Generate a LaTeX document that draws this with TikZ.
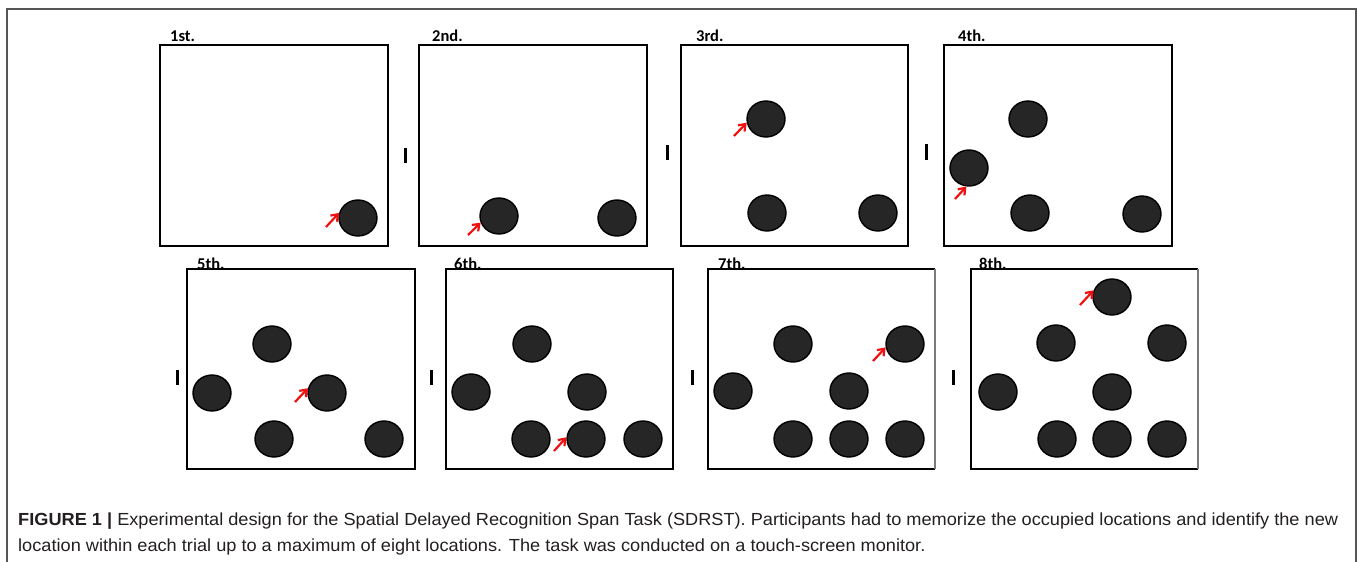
\documentclass[tikz,border=0pt]{standalone}
\usepackage{fontspec}
\setmainfont{Liberation Sans}
\newfontfamily\lblfont{Carlito}
\usetikzlibrary{shapes.geometric,arrows.meta}
\definecolor{dotfill}{HTML}{262626}
\definecolor{framegray}{HTML}{555555}
\definecolor{edgegray}{HTML}{7A7A7A}
\definecolor{capgray}{HTML}{231F20}
\definecolor{arrowred}{HTML}{F01010}
\newlength\capw
\newcommand\capA{\textbf{FIGURE 1 |} Experimental design for the Spatial Delayed Recognition Span Task (SDRST). Participants had to memorize the occupied locations and identify the new}
\newcommand\capB{location within each trial up to a maximum of eight locations. The task was conducted on a touch-screen monitor.}
\newcommand\capfont{\fontsize{17.5}{17.5}\selectfont}
\begin{document}
\settowidth{\capw}{\capfont\capA}%
\pgfmathsetmacro\capsx{1320/\capw}%
\begin{tikzpicture}[x=1pt,y=-1pt,
  panel/.style={draw=black,line width=1.4pt},
  dot/.style={ellipse,draw=black,fill=dotfill,line width=1.4pt,minimum width=38pt,minimum height=36pt,inner sep=0pt},
  newarrow/.style={draw=arrowred,line width=2.2pt,-{Straight Barb[length=6pt,width=9pt]}},
  lbl/.style={anchor=base west,inner sep=0pt,font=\lblfont\bfseries\fontsize{16.5}{16.5}\selectfont},
  sepbar/.style={draw=black,line width=3pt},
  capline/.style={anchor=base west,inner sep=0pt,text=capgray}]
\useasboundingbox (0,0) rectangle (1357,562);
% outer frame
\draw[framegray,line width=2pt] (7,564) -- (7,8.5) -- (1356,8.5) -- (1356,564);
% row 1 panels
\draw[panel] (160,45) rectangle (388,246);
\draw[panel] (419,45) rectangle (647,246);
\draw[panel] (681,45) rectangle (908,246);
\draw[panel] (944,45) rectangle (1172,246);
% row 2 panels
\draw[panel] (187,269) rectangle (415,469);
\draw[panel] (446,269) rectangle (673,469);
\draw[panel] (935,269) -- (708,269) -- (708,469) -- (935,469);
\draw[panel,draw=edgegray] (935,269) -- (935,469);
\draw[panel] (1198,269) -- (971,269) -- (971,469) -- (1198,469);
\draw[panel,draw=edgegray] (1198,269) -- (1198,469);
% labels
\node[lbl] (l1) at (170,41) {1st.};
\node[lbl] (l2) at (432,41) {2nd.};
\node[lbl] (l3) at (696,41) {3rd.};
\node[lbl] (l4) at (958,41) {4th.};
\node[lbl] (l5) at (197,269) {5th.};
\node[lbl] (l6) at (454,269) {6th.};
\node[lbl] (l7) at (718,269) {7th.};
\node[lbl] (l8) at (979,269) {8th.};
% separator bars
\draw[sepbar] (405,148) -- (405,163);
\draw[sepbar] (667,145) -- (667,160);
\draw[sepbar] (926,144) -- (926,160);
\draw[sepbar] (177,370) -- (177,385);
\draw[sepbar] (431,370) -- (431,385);
\draw[sepbar] (692,370) -- (692,385);
\draw[sepbar] (953,370) -- (953,385);
% panel 1
\node[dot] (p1a) at (358,218) {};
% panel 2
\node[dot] (p2a) at (499,216) {};
\node[dot] (p2b) at (617,218) {};
% panel 3
\node[dot] (p3a) at (766,119) {};
\node[dot] (p3b) at (767,213) {};
\node[dot] (p3c) at (878,213) {};
% panel 4
\node[dot] (p4a) at (1028,119) {};
\node[dot] (p4b) at (969,168) {};
\node[dot] (p4c) at (1030,213) {};
\node[dot] (p4d) at (1142,214) {};
% panel 5
\node[dot] (p5a) at (272,344) {};
\node[dot] (p5b) at (212,393) {};
\node[dot] (p5c) at (327,393) {};
\node[dot] (p5d) at (274,439) {};
\node[dot] (p5e) at (384,439) {};
% panel 6
\node[dot] (p6a) at (532,344) {};
\node[dot] (p6b) at (471,392) {};
\node[dot] (p6c) at (587,392) {};
\node[dot] (p6d) at (531,439) {};
\node[dot] (p6e) at (586,439) {};
\node[dot] (p6f) at (643,439) {};
% panel 7
\node[dot] (p7a) at (793,344) {};
\node[dot] (p7b) at (905,344) {};
\node[dot] (p7c) at (733,391) {};
\node[dot] (p7d) at (849,391) {};
\node[dot] (p7e) at (793,439) {};
\node[dot] (p7f) at (849,439) {};
\node[dot] (p7g) at (905,439) {};
% panel 8
\node[dot] (p8a) at (1112,297) {};
\node[dot] (p8b) at (1056,343) {};
\node[dot] (p8c) at (1167,343) {};
\node[dot] (p8d) at (998,392) {};
\node[dot] (p8e) at (1112,392) {};
\node[dot] (p8f) at (1057,439) {};
\node[dot] (p8g) at (1112,439) {};
\node[dot] (p8h) at (1167,439) {};
% red arrows to the new location
\coordinate (t1) at (326,227);
\coordinate (t2) at (468,235);
\coordinate (t3) at (734,136);
\coordinate (t4) at (955,199);
\coordinate (t5) at (295,402);
\coordinate (t6) at (554,451);
\coordinate (t7) at (873,361);
\coordinate (t8) at (1080,305);
\draw[newarrow] (t1) -- (p1a.165);
\draw[newarrow] (t2) -- (p2a.200);
\draw[newarrow] (t3) -- (p3a.191);
\draw[newarrow] (t4) -- (p4b.262);
\draw[newarrow] (t5) -- (p5c.166);
\draw[newarrow] (t6) -- (p6e.175);
\draw[newarrow] (t7) -- (p7b.190);
\draw[newarrow] (t8) -- (p8a.160);
% caption
\node[capline] (cap1) at (18,525) {\scalebox{\capsx}[1]{\capfont\capA}};
\node[capline] (cap2) at (18,551) {\scalebox{\capsx}[1]{\capfont\capB}};
\end{tikzpicture}
\end{document}
